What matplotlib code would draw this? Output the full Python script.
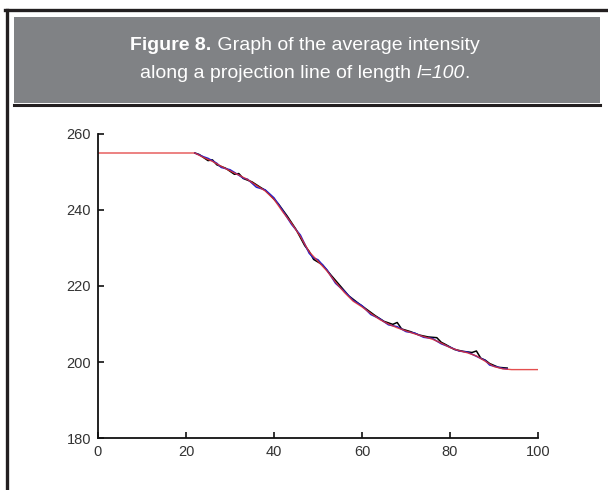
import matplotlib.pyplot as plt
from matplotlib.patches import Rectangle
from matplotlib.lines import Line2D

# average intensity along the projection line
x_red = [0, 22, 24, 26, 28, 30, 32, 34, 36, 38, 40, 42, 44, 46, 48, 50, 52, 54, 56, 58,
         60, 62, 64, 66, 68, 70, 72, 74, 76, 78, 80, 82, 84, 86, 88, 90, 92, 94, 100]
v_red = [255, 255, 253.8, 252.8, 251.5, 250.3, 249.2, 248.0, 246.5, 245.0, 242.8, 239.5,
         236.5, 233.0, 229.0, 226.5, 224.0, 221.0, 218.3, 216.0, 214.5, 212.8, 211.2,
         210.0, 209.0, 208.2, 207.4, 206.7, 206.0, 205.0, 203.8, 203.0, 202.4, 201.6,
         200.2, 198.8, 198.2, 198.0, 198.0]

x_blk = [22, 23, 25, 26, 27, 29, 31, 32, 33, 35, 37, 38, 39, 41, 43, 45, 47, 48, 49, 51,
         53, 55, 57, 59, 61, 63, 65, 67, 68, 69, 71, 73, 75, 77, 78, 79, 81, 83, 85, 86,
         87, 88, 89, 91, 93]
v_blk = [255, 254.6, 253.0, 253.2, 251.9, 251.0, 249.4, 249.6, 248.3, 247.4, 245.9, 245.2,
         244.1, 241.6, 238.4, 234.9, 230.6, 229.1, 227.0, 225.6, 222.8, 220.1, 217.4,
         215.6, 213.9, 212.2, 210.7, 209.9, 210.4, 208.7, 208.0, 207.1, 206.6, 206.4,
         205.2, 204.6, 203.3, 202.8, 202.5, 202.9, 201.0, 200.5, 199.6, 198.6, 198.4]

x_blu = [22, 24, 25, 27, 28, 30, 31, 33, 34, 36, 38, 40, 42, 44, 46, 48, 49, 50, 52, 54,
         56, 58, 60, 62, 64, 66, 68, 70, 72, 74, 76, 78, 80, 82, 84, 86, 88, 89, 90, 92, 93]
v_blu = [255, 254.0, 253.6, 252.3, 251.2, 250.6, 249.9, 248.4, 248.1, 246.0, 245.3, 243.2,
         239.8, 236.2, 233.4, 228.6, 227.4, 226.9, 224.3, 220.7, 218.6, 216.2, 214.8,
         212.5, 211.4, 209.8, 209.3, 208.0, 207.6, 206.5, 206.2, 204.8, 203.9, 202.9,
         202.6, 201.5, 200.4, 199.2, 198.9, 198.3, 198.2]

x_ticks = [0, 20, 40, 60, 80, 100]
y_ticks = [180, 200, 220, 240, 260]

fig = plt.figure(figsize=(6.08, 4.90), dpi=100)
W, H = 608.0, 490.0

# outer frame (top and left only) and grey caption box
fig.add_artist(Line2D([5 / W, 1.0], [1 - 10 / H, 1 - 10 / H], color='#231f20', lw=2.4))
fig.add_artist(Line2D([6.5 / W, 6.5 / W], [1 - 10 / H, 0.0], color='#231f20', lw=2.4))
fig.add_artist(Rectangle((14 / W, 1 - 103 / H), 586 / W, 86 / H, transform=fig.transFigure,
                         facecolor='#808285', edgecolor='none'))
fig.add_artist(Line2D([14 / W, 600 / W], [1 - 105 / H, 1 - 105 / H], color='#231f20', lw=2.2))

fam = ['Liberation Sans Narrow', 'Liberation Sans', 'DejaVu Sans']
fs = 14
fig.canvas.draw()
r = fig.canvas.get_renderer()

# line 1: bold "Figure 8." + regular rest
t1a = fig.text(0, 1 - 45 / H, 'Figure 8.', color='white', fontsize=fs, fontweight='bold',
               family=fam, va='center')
t1b = fig.text(0, 1 - 45 / H, ' Graph of the average intensity', color='white', fontsize=fs,
               family=fam, va='center')
w1a = t1a.get_window_extent(r).width
w1b = t1b.get_window_extent(r).width
x0 = (305 - (w1a + w1b) / 2) / W
t1a.set_x(x0)
t1b.set_x(x0 + w1a / W)

# line 2: regular + italic "l=100" + "."
t2a = fig.text(0, 1 - 73 / H, 'along a projection line of length ', color='white', fontsize=fs,
               family=fam, va='center')
t2b = fig.text(0, 1 - 73 / H, 'l=100', color='white', fontsize=fs, family=fam,
               style='italic', va='center')
t2c = fig.text(0, 1 - 73 / H, '.', color='white', fontsize=fs, family=fam, va='center')
w2a = t2a.get_window_extent(r).width
w2b = t2b.get_window_extent(r).width
w2c = t2c.get_window_extent(r).width
x0 = (305 - (w2a + w2b + w2c) / 2) / W
t2a.set_x(x0)
t2b.set_x(x0 + w2a / W)
t2c.set_x(x0 + (w2a + w2b) / W)

# plot
ax = fig.add_axes([98 / W, 1 - 438 / H, 440 / W, 304 / H])
ax.plot(x_blk, v_blk, color='black', lw=1.1)
ax.plot(x_blu, v_blu, color='#2020d0', lw=1.1)
ax.plot(x_red, v_red, color='#e03030', lw=1.0, alpha=0.85)
ax.set_xlim(0, 100)
ax.set_ylim(180, 260)
ax.set_xticks(x_ticks)
ax.set_yticks(y_ticks)
ax.spines['top'].set_visible(False)
ax.spines['right'].set_visible(False)
for s in ['left', 'bottom']:
    ax.spines[s].set_linewidth(1.3)
    ax.spines[s].set_color('#111111')
ax.tick_params(direction='in', length=4, width=1.2, colors='#111111',
               labelsize=10.5, labelcolor='#333333', pad=5)
for lab in ax.get_xticklabels() + ax.get_yticklabels():
    lab.set_family(['Liberation Sans', 'DejaVu Sans'])

fig.savefig('out.png', dpi=100)
